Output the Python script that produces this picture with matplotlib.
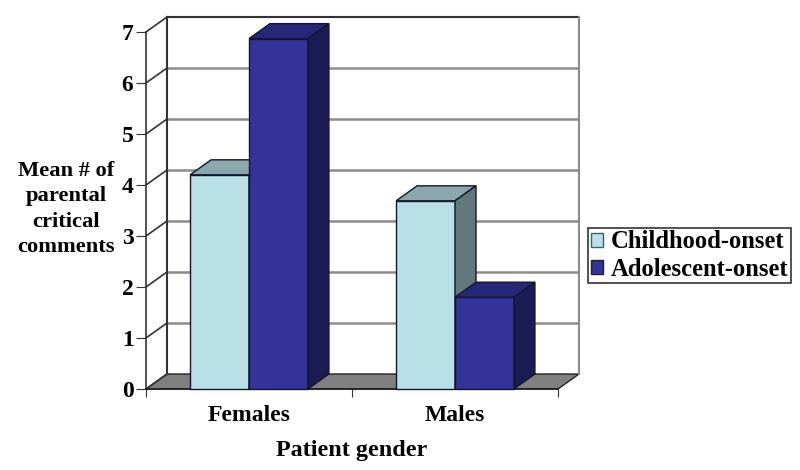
import matplotlib
matplotlib.use("Agg")
import matplotlib.pyplot as plt
from matplotlib.patches import Patch

categories = ["Females", "Males"]
series_names = ["Childhood-onset", "Adolescent-onset"]
childhood = [4.2, 3.69]
adolescent = [6.87, 1.8]
y_ticks = [0, 1, 2, 3, 4, 5, 6, 7]

# front face colour, top colour, side colour
LIGHT = ("#b9e0e6", "#8aa8ac", "#61787c")
DARK = ("#333399", "#27277a", "#1c1c55")
BAR_W = 0.286
DX = 21 / 206   # depth offset in x units
DY = 15 / 51    # depth offset in y units

plt.rcParams["font.family"] = ["Liberation Serif", "DejaVu Serif"]
plt.rcParams["font.weight"] = "bold"


def bar3d(ax, left, value, colors, z):
    right = left + BAR_W
    ax.bar(left, value, BAR_W, align="edge", color=colors[0], edgecolor="#15152e",
           linewidth=1, zorder=z, clip_on=False)
    ax.fill([left, left + DX, right + DX, right], [value, value + DY, value + DY, value],
            color=colors[1], ec="#15152e", lw=1, zorder=z, clip_on=False)
    ax.fill([right, right + DX, right + DX, right], [0, DY, value + DY, value],
            color=colors[2], ec="#15152e", lw=1, zorder=z, clip_on=False)


def main():
    fig = plt.figure(figsize=(8, 4.7), dpi=100)
    ax = fig.add_axes([146 / 800, (470 - 389) / 470, 412 / 800, 357 / 470])
    ax.set_xlim(0, 2)
    ax.set_ylim(0, 7)

    # floor and back wall
    ax.fill([0, DX, 2 + DX, 2], [0, DY, DY, 0], color="#808080", ec="#222222", lw=1,
            zorder=1, clip_on=False)
    for y in y_ticks[1:-1]:
        ax.plot([DX, 2 + DX], [y + DY, y + DY], color="#8c8c8c", lw=1.8, zorder=2,
                clip_on=False, solid_capstyle="butt")
    for y in y_ticks:
        ax.plot([0, DX], [y, y + DY], color="#333333", lw=1.2, zorder=2, clip_on=False)
    ax.plot([DX, 2 + DX], [7 + DY, 7 + DY], color="#333333", lw=1.5, zorder=2, clip_on=False)
    ax.plot([DX, DX], [DY, 7 + DY], color="#333333", lw=1.5, zorder=2, clip_on=False)
    ax.plot([2 + DX, 2 + DX], [DY, 7 + DY], color="#8c8c8c", lw=1.5, zorder=2, clip_on=False)

    # males first so the overlap order stays left to right
    for i in range(len(categories)):
        bar3d(ax, i + 0.5 - BAR_W, childhood[i], LIGHT, 3 + i * 2)
        bar3d(ax, i + 0.5, adolescent[i], DARK, 4 + i * 2)

    for side in ["top", "right"]:
        ax.spines[side].set_visible(False)
    ax.spines["left"].set_color("#333333")
    ax.spines["bottom"].set_color("#222222")
    ax.spines["left"].set_linewidth(1.2)
    ax.spines["bottom"].set_linewidth(1.2)
    ax.patch.set_alpha(0)

    ax.set_yticks(y_ticks)
    ax.set_xticks([0, 1, 2], labels=[])
    ax.set_xticks([0.5, 1.5], labels=categories, minor=True)
    ax.tick_params(axis="x", which="minor", length=0, labelsize=17, pad=11.5)
    ax.tick_params(axis="x", which="major", length=6, color="#333333")
    ax.tick_params(axis="y", length=7, color="#333333", labelsize=17, pad=2)

    ax.set_xlabel("Patient gender", fontsize=17.4, fontweight="bold", labelpad=10)
    fig.text(66 / 800, 1 - 209 / 470, "Mean # of\nparental\ncritical\ncomments", fontsize=16.2,
             fontweight="bold", ha="center", va="center", linespacing=1.36)

    handles = [Patch(facecolor=LIGHT[0], edgecolor="#3a6468"),
               Patch(facecolor=DARK[0], edgecolor="#222222")]
    leg = fig.legend(handles, series_names, loc="center left",
                     bbox_to_anchor=(588 / 800, 1 - 255.5 / 470), fontsize=17.7,
                     fancybox=False, framealpha=1, edgecolor="#333333", borderpad=0.11,
                     handlelength=0.5, handleheight=0.5, handletextpad=0.33,
                     labelspacing=0.175, borderaxespad=0)
    leg.get_frame().set_linewidth(1.2)

    fig.savefig("out.png", dpi=100)


if __name__ == "__main__":
    main()
